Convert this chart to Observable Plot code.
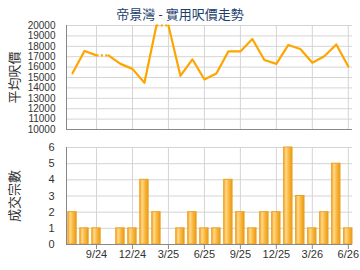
<!DOCTYPE html>
<html><head><meta charset="utf-8">
<script src="https://cdn.jsdelivr.net/npm/d3@7"></script>
<script src="https://cdn.jsdelivr.net/npm/@observablehq/plot@0.6"></script>
<style>
body{margin:0;background:#fff;}
#wrap{position:relative;width:360px;height:270px;overflow:hidden;background:#fff;}
#title{position:absolute;z-index:2;top:5px;left:0;width:360px;text-align:center;font-size:13px;font-family:"Noto Sans CJK TC",sans-serif;color:#1d3f6e;line-height:18px;}
#topChart,#botChart{position:absolute;left:0;z-index:1;}
#topChart{top:0}
#botChart{top:135px}
</style></head><body>
<div id="wrap"><div id="title">帝景灣 - 實用呎價走勢</div><div id="topChart"></div><div id="botChart"></div></div>
<script>
const months = ["7/24","8/24","9/24","10/24","11/24","12/24","1/25","2/25","3/25","4/25","5/25","6/25","7/25","8/25","9/25","10/25","11/25","12/25","1/26","2/26","3/26","4/26","5/26","6/26"];
const prices = [15410,17550,17130,null,16310,15830,14490,20000,null,15160,16750,14810,15380,17510,17510,18700,16690,16310,18130,17740,16410,17040,18180,16050];
const counts = [2,1,1,0,1,1,4,2,0,1,2,1,1,4,2,1,2,2,6,3,1,2,5,1];
const tickLabels = ["9/24","12/24","3/25","6/25","9/25","12/25","3/26","6/26"];
const priceTicks = [10000,11000,12000,13000,14000,15000,16000,17000,18000,19000,20000];
const countTicks = [0,1,2,3,4,5,6];
const priceTitle = "平均呎價";
const countTitle = "成交宗數";

let last = null, grp = 0;
const rows = months.map((m, i) => {
  const missing = prices[i] == null;
  if (missing && i > 0) grp++;
  const v = missing ? last : prices[i];
  last = v;
  return {i, month: m, price: v, missing, grp, count: counts[i]};
});
const dotted = rows.filter(d => d.missing && d.i > 0).map(d => ({x1: d.i - 1, y1: rows[d.i - 1].price, x2: d.i, y2: d.price}));
const tickIdx = tickLabels.map(t => months.indexOf(t));
const xDomain = [-0.5, months.length - 0.65];

const font = '"Liberation Sans", Arial, sans-serif';
const cjk = '"Noto Sans CJK TC", sans-serif';
const base = {
  width: 360, height: 135, marginLeft: 66, marginRight: 8,
  style: {fontSize: "11px", fontFamily: font, color: "#333", background: "transparent", overflow: "visible"}
};

const topPlot = Plot.plot({
  ...base, marginTop: 25, marginBottom: 6,
  x: {domain: xDomain, axis: null},
  y: {domain: [priceTicks[0], priceTicks[priceTicks.length - 1]], axis: null},
  marks: [
    Plot.gridY(priceTicks, {stroke: "#d4d4d4", strokeOpacity: 1}),
    Plot.gridX(tickIdx, {stroke: "#d4d4d4", strokeOpacity: 1}),
    Plot.axisY(priceTicks, {tickSize: 0, tickPadding: 11, tickFormat: d => String(d), label: null, fill: "#333", fontSize: 10}),
    Plot.ruleY([priceTicks[0]], {stroke: "#888"}),
    Plot.ruleX([xDomain[0]], {stroke: "#888"}),
    Plot.line(rows, {x: "i", y: "price", z: "grp", stroke: "#ffa500", strokeWidth: 2.2, strokeLinejoin: "round", strokeLinecap: "round"}),
    Plot.link(dotted, {x1: "x1", y1: "y1", x2: "x2", y2: "y2", stroke: "#ffa500", strokeWidth: 2.2, strokeDasharray: "2 2.4"}),
    Plot.text([priceTitle], {text: d => d, frameAnchor: "left", textAnchor: "middle", rotate: -90, dx: -52, fontSize: 13, fontFamily: cjk, fill: "#333"})
  ]
});
document.getElementById("topChart").appendChild(topPlot);

const bars = rows.filter(d => d.count > 0);
const botPlot = Plot.plot({
  ...base, marginTop: 12, marginBottom: 26,
  x: {domain: xDomain, axis: null},
  y: {domain: [countTicks[0], countTicks[countTicks.length - 1]], axis: null},
  marks: [
    () => {
      const defs = d3.create("svg:defs");
      const g = defs.append("linearGradient").attr("id", "barGrad").attr("x1", "0").attr("x2", "1").attr("y1", "0").attr("y2", "0");
      [["0%", "#f3a61c"], ["28%", "#ffd98e"], ["55%", "#fbbd4a"], ["100%", "#e99a12"]].forEach(([o, c]) => g.append("stop").attr("offset", o).attr("stop-color", c));
      return defs.node();
    },
    Plot.gridY(countTicks, {stroke: "#d4d4d4", strokeOpacity: 1}),
    Plot.gridX(tickIdx, {stroke: "#d4d4d4", strokeOpacity: 1}),
    Plot.axisY(countTicks, {tickSize: 0, tickPadding: 12, label: null, fill: "#333"}),
    Plot.axisX(tickIdx, {tickSize: 5, tickPadding: 1, tickFormat: i => months[i], label: null, stroke: "#888", fill: "#333"}),
    Plot.rectY(bars, {x1: d => d.i - 0.35, x2: d => d.i + 0.35, y: "count", fill: "url(#barGrad)", stroke: "#eda224", strokeWidth: 1}),
    Plot.ruleY([countTicks[0]], {stroke: "#888"}),
    Plot.ruleX([xDomain[0]], {stroke: "#888"}),
    Plot.text([countTitle], {text: d => d, frameAnchor: "left", textAnchor: "middle", rotate: -90, dx: -52, fontSize: 13, fontFamily: cjk, fill: "#333"})
  ]
});
document.getElementById("botChart").appendChild(botPlot);
</script>
</body></html>
